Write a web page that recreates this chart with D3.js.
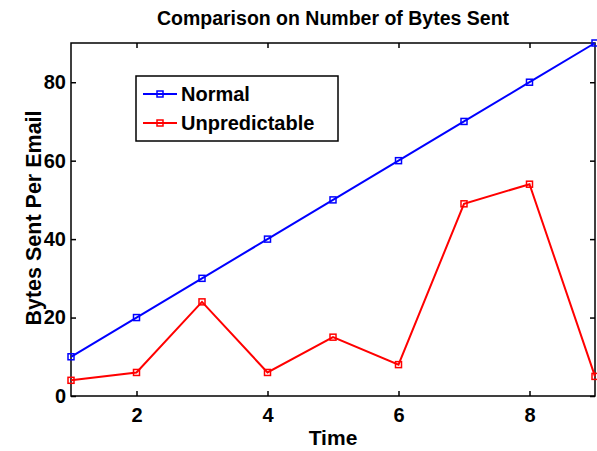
<!DOCTYPE html>
<html><head><meta charset="utf-8">
<script src="https://cdn.jsdelivr.net/npm/d3@7/dist/d3.min.js"></script>
<style>body{margin:0;background:#fff}svg{font-family:"Liberation Sans",Arial,sans-serif;font-weight:bold}</style>
</head><body><svg id="c" width="597" height="451"></svg>
<script>
const times = [1,2,3,4,5,6,7,8,9];
const normal = [10,20,30,40,50,60,70,80,90];
const unpredictable = [4,6,24,6,15,8,49,54,5];
const xTicks = [2,4,6,8];
const yTicks = [0,20,40,60,80];
const seriesNames = ["Normal","Unpredictable"];
const colors = ["#0000ff","#ff0000"];

const svg = d3.select("#c");
const L=71, R=595, T=43, B=396;
const x = d3.scaleLinear().domain([1,9]).range([L,R]);
const y = d3.scaleLinear().domain([0,90]).range([B,T]);

svg.append("rect").attr("x",L).attr("y",T).attr("width",R-L).attr("height",B-T)
  .attr("fill","none").attr("stroke","#000").attr("stroke-width",1.5);

const gx = svg.append("g").attr("transform",`translate(0,${B})`)
  .call(d3.axisBottom(x).tickValues(xTicks).tickSize(-5).tickPadding(12).tickFormat(d3.format("d")));
const gxt = svg.append("g").attr("transform",`translate(0,${T})`)
  .call(d3.axisTop(x).tickValues(xTicks).tickSize(-5).tickFormat(""));
const gy = svg.append("g").attr("transform",`translate(${L},0)`)
  .call(d3.axisLeft(y).tickValues(yTicks).tickSize(-5).tickPadding(5).tickFormat(d3.format("d")));
const gyr = svg.append("g").attr("transform",`translate(${R},0)`)
  .call(d3.axisRight(y).tickValues(yTicks).tickSize(-5).tickFormat(""));
[gx,gxt,gy,gyr].forEach(g=>{
  g.select(".domain").remove();
  g.selectAll("line").attr("stroke","#000").attr("stroke-width",1.5);
  g.selectAll("text").attr("font-size",20).attr("font-weight","bold").attr("fill","#000")
   .attr("font-family","Liberation Sans, Arial, sans-serif");
});
gx.selectAll("text").attr("dy","0.71em");

const data = [normal, unpredictable];
const line = d3.line().x((d,i)=>x(times[i])).y(d=>y(d));
data.forEach((s,k)=>{
  svg.append("path").attr("d",line(s)).attr("fill","none").attr("stroke",colors[k]).attr("stroke-width",2);
  svg.append("g").selectAll("rect").data(s).join("rect")
    .attr("x",(d,i)=>x(times[i])-3).attr("y",d=>y(d)-3).attr("width",6).attr("height",6)
    .attr("fill","none").attr("stroke",colors[k]).attr("stroke-width",1.5);
});

svg.append("text").attr("x",(L+R)/2).attr("y",25).attr("text-anchor","middle")
  .attr("font-size",19.5).text("Comparison on Number of Bytes Sent");
svg.append("text").attr("x",(L+R)/2).attr("y",445).attr("text-anchor","middle")
  .attr("font-size",21).text("Time");
svg.append("text").attr("transform",`translate(41,218) rotate(-90)`).attr("text-anchor","middle")
  .attr("font-size",21.5).text("Bytes Sent Per Email");

const lg = svg.append("g");
lg.append("rect").attr("x",136).attr("y",76).attr("width",202).attr("height",65)
  .attr("fill","#fff").attr("stroke","#000").attr("stroke-width",1.5);
seriesNames.forEach((n,k)=>{
  const yy = 94 + k*29;
  lg.append("line").attr("x1",143).attr("x2",177).attr("y1",yy).attr("y2",yy).attr("stroke",colors[k]).attr("stroke-width",2);
  lg.append("rect").attr("x",157).attr("y",yy-3).attr("width",6).attr("height",6).attr("fill","none").attr("stroke",colors[k]).attr("stroke-width",1.5);
  lg.append("text").attr("x",181).attr("y",yy+7).attr("font-size",20).text(n);
});
</script></body></html>
